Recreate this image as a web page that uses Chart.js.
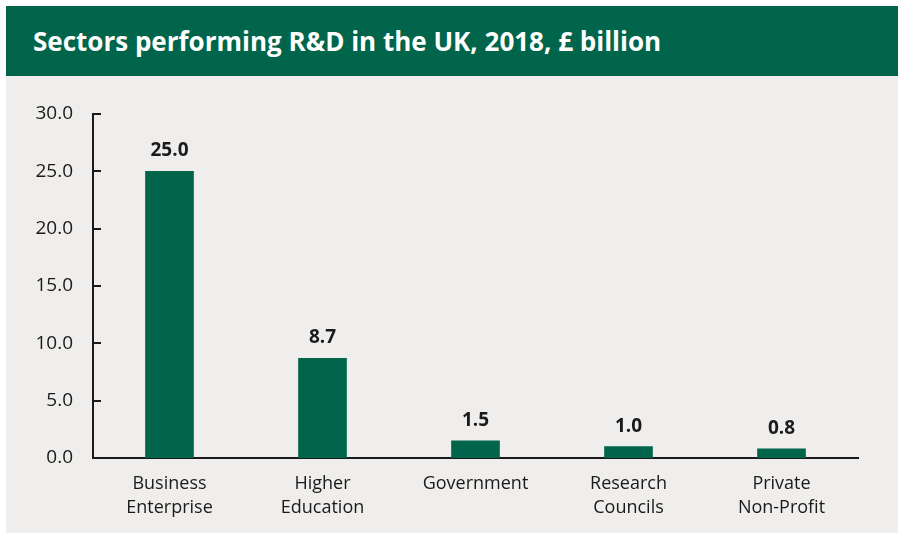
<!DOCTYPE html>
<html>
<head>
<meta charset="utf-8">
<title>Sectors performing R&amp;D in the UK, 2018</title>
<script src="https://cdn.jsdelivr.net/npm/chart.js@4.4.1/dist/chart.umd.min.js"></script>
<style>
  html, body { margin: 0; padding: 0; background: #ffffff; }
  body { width: 898px; height: 534px; position: relative; overflow: hidden; }
  .panel {
    position: absolute; left: 6px; top: 6px; width: 892px; height: 527px;
    background: #efeeec;
  }
  .panel h1 {
    margin: 0; height: 70px; line-height: 70px; padding-left: 27px;
    background: #00654a; color: #ffffff;
    font-family: "Open Sans", "Noto Sans", sans-serif; font-weight: 700; font-size: 26px;
  }
  .plot { position: relative; width: 892px; height: 457px; }
</style>
</head>
<body>
<div class="panel">
  <h1>Sectors performing R&amp;D in the UK, 2018, £ billion</h1>
  <div class="plot"><canvas id="rdChart"></canvas></div>
</div>
<script>
  const sectors = [
    ["Business", "Enterprise"],
    ["Higher", "Education"],
    "Government",
    ["Research", "Councils"],
    ["Private", "Non-Profit"]
  ];
  const spendBillion = [25.0, 8.7, 1.5, 1.0, 0.8];
  const yTicks = [0, 5, 10, 15, 20, 25, 30];

  const green = "#00654a";
  const ink = "#1a1a1a";
  const fontFamily = '"Open Sans", "Noto Sans", sans-serif';

  // short inward tick marks on the y axis, plus value labels above each bar
  const decorations = {
    id: "decorations",
    afterDraw(chart) {
      const ctx = chart.ctx;
      const y = chart.scales.y;
      const left = chart.chartArea.left;
      ctx.save();
      ctx.strokeStyle = ink;
      ctx.lineWidth = 2;
      yTicks.forEach(v => {
        const py = Math.round(y.getPixelForValue(v));
        ctx.beginPath();
        ctx.moveTo(left, py);
        ctx.lineTo(left + 8, py);
        ctx.stroke();
      });

      ctx.fillStyle = ink;
      ctx.font = "700 19px " + fontFamily;
      ctx.textAlign = "center";
      ctx.textBaseline = "alphabetic";
      chart.getDatasetMeta(0).data.forEach((bar, i) => {
        ctx.fillText(spendBillion[i].toFixed(1), bar.x, bar.y - 15);
      });
      ctx.restore();
    }
  };

  new Chart(document.getElementById("rdChart"), {
    type: "bar",
    data: {
      labels: sectors,
      datasets: [{
        data: spendBillion,
        backgroundColor: green,
        borderWidth: 0,
        barThickness: 48
      }]
    },
    options: {
      responsive: true,
      maintainAspectRatio: false,
      animation: false,
      layout: { padding: { top: 38, right: 40, left: 0, bottom: 0 } },
      plugins: {
        legend: { display: false },
        tooltip: { enabled: false }
      },
      scales: {
        x: {
          grid: { display: false, drawTicks: false },
          border: { display: true, color: ink, width: 2 },
          ticks: {
            color: ink,
            padding: 14,
            font: { family: fontFamily, size: 18, lineHeight: 1.33 }
          },
          afterFit(scale) { scale.height = 75; }
        },
        y: {
          min: 0,
          max: 30,
          afterBuildTicks(scale) { scale.ticks = yTicks.map(v => ({ value: v })); },
          grid: { display: false, drawTicks: false },
          border: { display: true, color: ink, width: 2 },
          ticks: {
            color: ink,
            padding: 20,
            font: { family: fontFamily, size: 19 },
            callback: v => v.toFixed(1)
          },
          afterFit(scale) { scale.width = 87; }
        }
      }
    },
    plugins: [decorations]
  });
</script>
</body>
</html>
